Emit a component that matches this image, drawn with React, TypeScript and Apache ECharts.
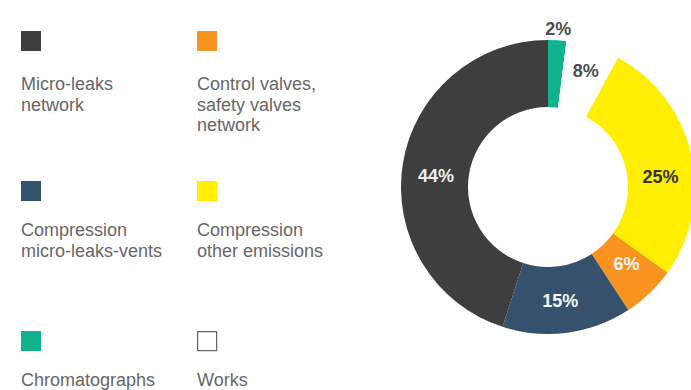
import React, { useEffect, useRef } from "react";
import * as echarts from "echarts";

// Legend / slice categories (clockwise from 12 o'clock in the donut)
const categories = [
  "Chromatographs",
  "Works",
  "Compression other emissions",
  "Control valves, safety valves network",
  "Compression micro-leaks-vents",
  "Micro-leaks network",
];
// Slice shares as drawn (measured angles of the picture)
const sliceShares = [2, 5.9, 27, 5.9, 14.2, 45];
// Printed percentage labels
const printedLabels = ["2%", "8%", "25%", "6%", "15%", "44%"];
// Legend text lines, in legend order (row by row, left then right)
const legendOrder = [
  "Micro-leaks network",
  "Control valves, safety valves network",
  "Compression micro-leaks-vents",
  "Compression other emissions",
  "Chromatographs",
  "Works",
];
const legendLines: string[][] = [
  ["Micro-leaks", "network"],
  ["Control valves,", "safety valves", "network"],
  ["Compression", "micro-leaks-vents"],
  ["Compression", "other emissions"],
  ["Chromatographs"],
  ["Works"],
];

const COLORS: Record<string, string> = {
  "Chromatographs": "#10b28b",
  "Works": "#ffffff",
  "Compression other emissions": "#ffee00",
  "Control valves, safety valves network": "#f7931e",
  "Compression micro-leaks-vents": "#36516c",
  "Micro-leaks network": "#3e3e3e",
};
const LABEL_COLORS: Record<string, string> = {
  "Chromatographs": "#4d4d4d",
  "Works": "#4d4d4d",
  "Compression other emissions": "#333333",
  "Control valves, safety valves network": "#f4f4f4",
  "Compression micro-leaks-vents": "#f4f4f4",
  "Micro-leaks network": "#eeeeee",
};
const LABEL_OFFSETS: Record<string, number[]> = {
  "Chromatographs": [3, -42],
  "Works": [2, -5],
  "Compression other emissions": [-1, 16],
  "Control valves, safety valves network": [-2, -7],
  "Compression micro-leaks-vents": [-3, -1],
  "Micro-leaks network": [3, 7],
};

const FONT = "'Liberation Sans', Arial, Helvetica, sans-serif";

export default function App() {
  const ref = useRef<HTMLDivElement>(null);
  useEffect(() => {
    if (!ref.current) return;
    const chart = echarts.init(ref.current, undefined, { renderer: "svg" });

    const colX = [21, 197];
    const rowY = [31, 181, 331];
    const textGap = [43, 39, 39];
    const graphics: any[] = [];
    legendOrder.forEach((name, i) => {
      const col = i % 2;
      const row = Math.floor(i / 2);
      const x = colX[col];
      const y = rowY[row];
      const isWhite = name === "Works";
      graphics.push({
        type: "rect",
        left: x,
        top: y,
        shape: { width: isWhite ? 19 : 20, height: isWhite ? 19 : 20 },
        style: {
          fill: COLORS[name],
          stroke: isWhite ? "#666666" : null,
          lineWidth: isWhite ? 1.2 : 0,
        },
      });
      graphics.push({
        type: "text",
        left: x,
        top: y + textGap[row],
        style: {
          text: legendLines[i].join("\n"),
          fill: "#666666",
          font: `18px ${FONT}`,
          lineHeight: 20.5,
        },
      });
    });

    const data = categories.map((name, i) => ({
      name,
      value: sliceShares[i],
      itemStyle: { color: COLORS[name] },
      label: {
        show: true,
        position: "inside",
        formatter: printedLabels[i],
        color: LABEL_COLORS[name],
        offset: LABEL_OFFSETS[name],
      },
    }));

    chart.setOption({
      animation: false,
      graphic: graphics,
      series: [
        {
          type: "pie",
          center: [548, 187],
          radius: [80, 147],
          startAngle: 90,
          clockwise: true,
          avoidLabelOverlap: false,
          labelLine: { show: false },
          label: {
            fontFamily: FONT,
            fontSize: 18,
            fontWeight: "bold",
          },
          emphasis: { disabled: true },
          data,
        },
      ],
    });
    return () => chart.dispose();
  }, []);
  return (
    <div
      ref={ref}
      style={{ position: "fixed", left: 0, top: 0, width: 691, height: 390, background: "#ffffff" }}
    />
  );
}
